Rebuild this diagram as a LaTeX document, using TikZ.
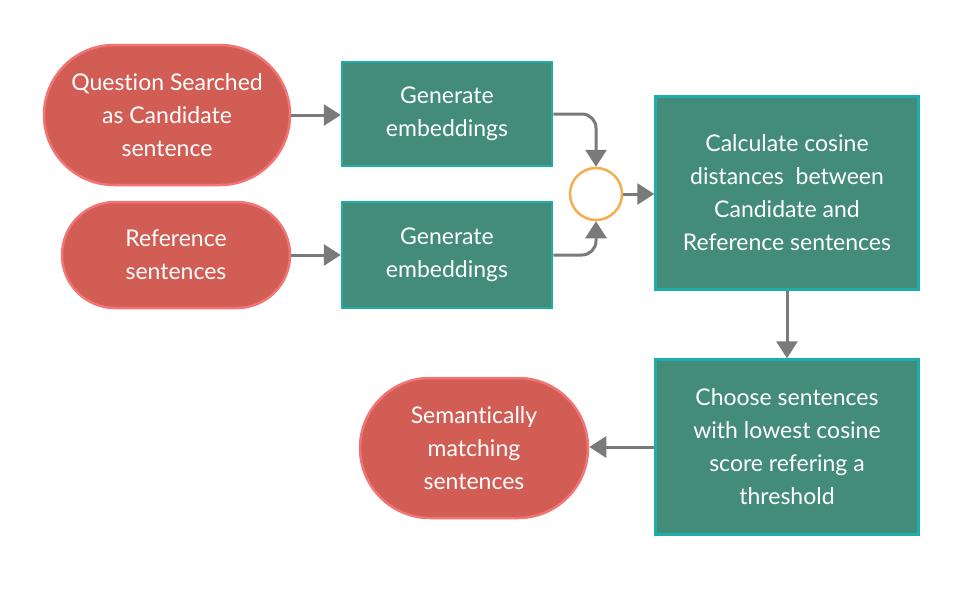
\documentclass[tikz,border=0pt]{standalone}
\usepackage{fontspec}
\setmainfont[Ligatures=NoCommon]{Lato}
\usetikzlibrary{arrows.meta,shapes.misc}
\definecolor{redfill}{HTML}{D15D55}
\definecolor{redline}{HTML}{F27576}
\definecolor{greenfill}{HTML}{438C79}
\definecolor{tealline}{HTML}{1FADAB}
\definecolor{arrowgray}{HTML}{7A7A7A}
\definecolor{ringorange}{HTML}{F6AD50}
\begin{document}
\begin{tikzpicture}[x=1pt,y=-1pt,
  txt/.style={text=white,font=\fontsize{23}{33}\selectfont,align=center,execute at begin node={\rule{0pt}{22.5pt}}},
  stad/.style={txt,rounded rectangle,fill=redfill,draw=redline,line width=2.5pt,inner sep=0pt},
  gbox/.style={txt,rectangle,fill=greenfill,draw=tealline,line width=2.5pt,inner sep=0pt},
  conn/.style={draw=arrowgray,line width=3pt,-{Triangle[length=17pt,width=21pt]},rounded corners=14pt}]
\useasboundingbox (0,0) rectangle (978,592);
\node[stad,minimum width=246pt,minimum height=140pt] (q) at (167,115) {Question Searched\\as Candidate\\sentence};
\node[stad,minimum width=228pt,minimum height=106pt] (r) at (176,255) {Reference\\sentences};
\node[gbox,minimum width=210pt,minimum height=104pt] (g1) at (447,114) {Generate\\embeddings};
\node[gbox,minimum width=210pt,minimum height=106pt] (g2) at (447,255) {Generate\\embeddings};
\node[circle,draw=ringorange,line width=2.5pt,minimum size=52pt,inner sep=0pt] (o) at (596,194) {};
\node[gbox,minimum width=263pt,minimum height=193pt] (c) at (787,193) {Calculate cosine\\distances\ \ between\\Candidate and\\Reference sentences};
\node[gbox,minimum width=263pt,minimum height=175pt] (s) at (787,447) {Choose sentences\\with lowest cosine\\score refering a\\threshold};
\node[stad,minimum width=228pt,minimum height=140pt] (m) at (474,448) {Semantically\\matching\\sentences};
\draw[conn] (q.east) -- (g1.west |- q.east);
\draw[conn] (r.east) -- (g2.west |- r.east);
\draw[conn] (g1.east) -| (o.north);
\draw[conn] (g2.east) -| (o.south);
\draw[conn] (o.east) -- (c.west |- o.east);
\draw[conn] (c.south) -- (s.north);
\draw[conn] (s.west) -- (m.east |- s.west);
\end{tikzpicture}
\end{document}
